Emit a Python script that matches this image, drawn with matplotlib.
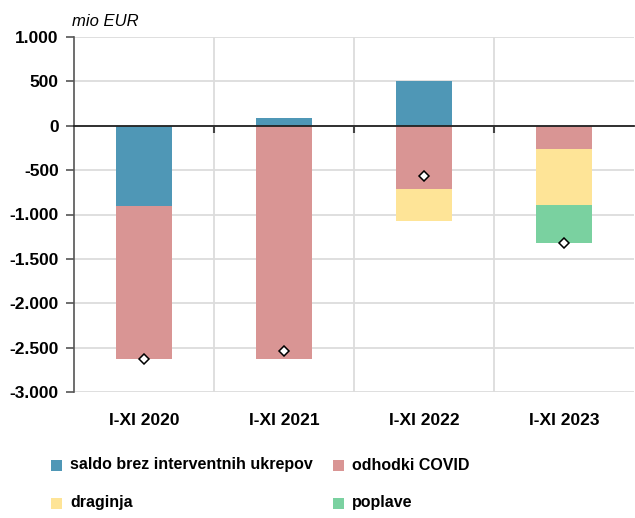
import matplotlib.pyplot as plt
from matplotlib.patches import Rectangle
import numpy as np

# values in mio EUR
periods = ["I-XI 2020", "I-XI 2021", "I-XI 2022", "I-XI 2023"]
saldo = [-900, 87, 500, 0]
covid = [-1725, -2625, -717, -259]
draginja = [0, 0, -357, -631]
poplave = [0, 0, 0, -436]
total = [-2630, -2540, -567, -1326]

series = [
    ("saldo brez interventnih ukrepov", saldo, "#4F97B6"),
    ("odhodki COVID", covid, "#D99594"),
    ("draginja", draginja, "#FEE497"),
    ("poplave", poplave, "#7AD1A0"),
]

plt.rcParams['font.family'] = ['Liberation Sans', 'DejaVu Sans']

W, H = 635, 518
fig = plt.figure(figsize=(W / 100, H / 100), dpi=100)
ax = fig.add_axes([74 / W, 1 - 392 / H, (634 - 74) / W, (392 - 37) / H])

x = np.arange(len(periods))
pos_base = np.zeros(len(periods))
neg_base = np.zeros(len(periods))
for name, vals, col in series:
    vals = np.array(vals, dtype=float)
    bottom = np.where(vals >= 0, pos_base, neg_base)
    ax.bar(x, vals, width=0.4, bottom=bottom, color=col, zorder=2)
    pos_base += np.where(vals >= 0, vals, 0)
    neg_base += np.where(vals < 0, vals, 0)

ax.plot(x, total, linestyle="none", marker="D", markersize=5.5,
        markerfacecolor="white", markeredgecolor="black", markeredgewidth=1.1, zorder=4)

ax.set_xlim(-0.5, 3.5)
ax.set_ylim(-3000, 1000)
yt = list(range(-3000, 1001, 500))
ax.set_yticks(yt)
ax.set_yticklabels([f"{v:,}".replace(",", ".") for v in yt])
ax.yaxis.grid(True, color="#DCDCDC", linewidth=1.3, zorder=0)
ax.set_xticks([0.5, 1.5, 2.5])
ax.set_xticklabels([])
ax.xaxis.grid(True, color="#DCDCDC", linewidth=1.3, zorder=0)
ax.tick_params(axis="x", length=5, width=1.5, color="#444444", direction="out")
ax.tick_params(axis="y", length=6, width=1.2, color="#555555", labelsize=12.5, pad=5)
for lbl in ax.get_yticklabels():
    lbl.set_fontweight("bold")

ax.spines["bottom"].set_position(("data", 0))
ax.spines["bottom"].set_color("#222222")
ax.spines["bottom"].set_linewidth(1.3)
ax.spines["bottom"].set_zorder(3)
ax.spines["left"].set_color("#555555")
ax.spines["left"].set_linewidth(1.2)
ax.spines["top"].set_visible(False)
ax.spines["right"].set_visible(False)

for i, p in enumerate(periods):
    ax.text(i, -3320, p, ha="center", va="center", fontsize=12.5, fontweight="bold")

fig.text(72 / W, 1 - 21 / H, "mio EUR", fontsize=12, style="italic", ha="left", va="center")

# legend laid out in two rows like the reference
legend_pos = [(51, 465), (333, 465), (51, 503), (333, 503)]
for (name, _, col), (lx, ly) in zip(series, legend_pos):
    fig.patches.append(Rectangle((lx / W, 1 - (ly + 5.5) / H), 11 / W, 11 / H,
                                 transform=fig.transFigure, facecolor=col, edgecolor="none"))
    fig.text((lx + 19) / W, 1 - ly / H, name, fontsize=11.5, fontweight="bold",
             ha="left", va="center")

fig.savefig("out.png", dpi=100)
